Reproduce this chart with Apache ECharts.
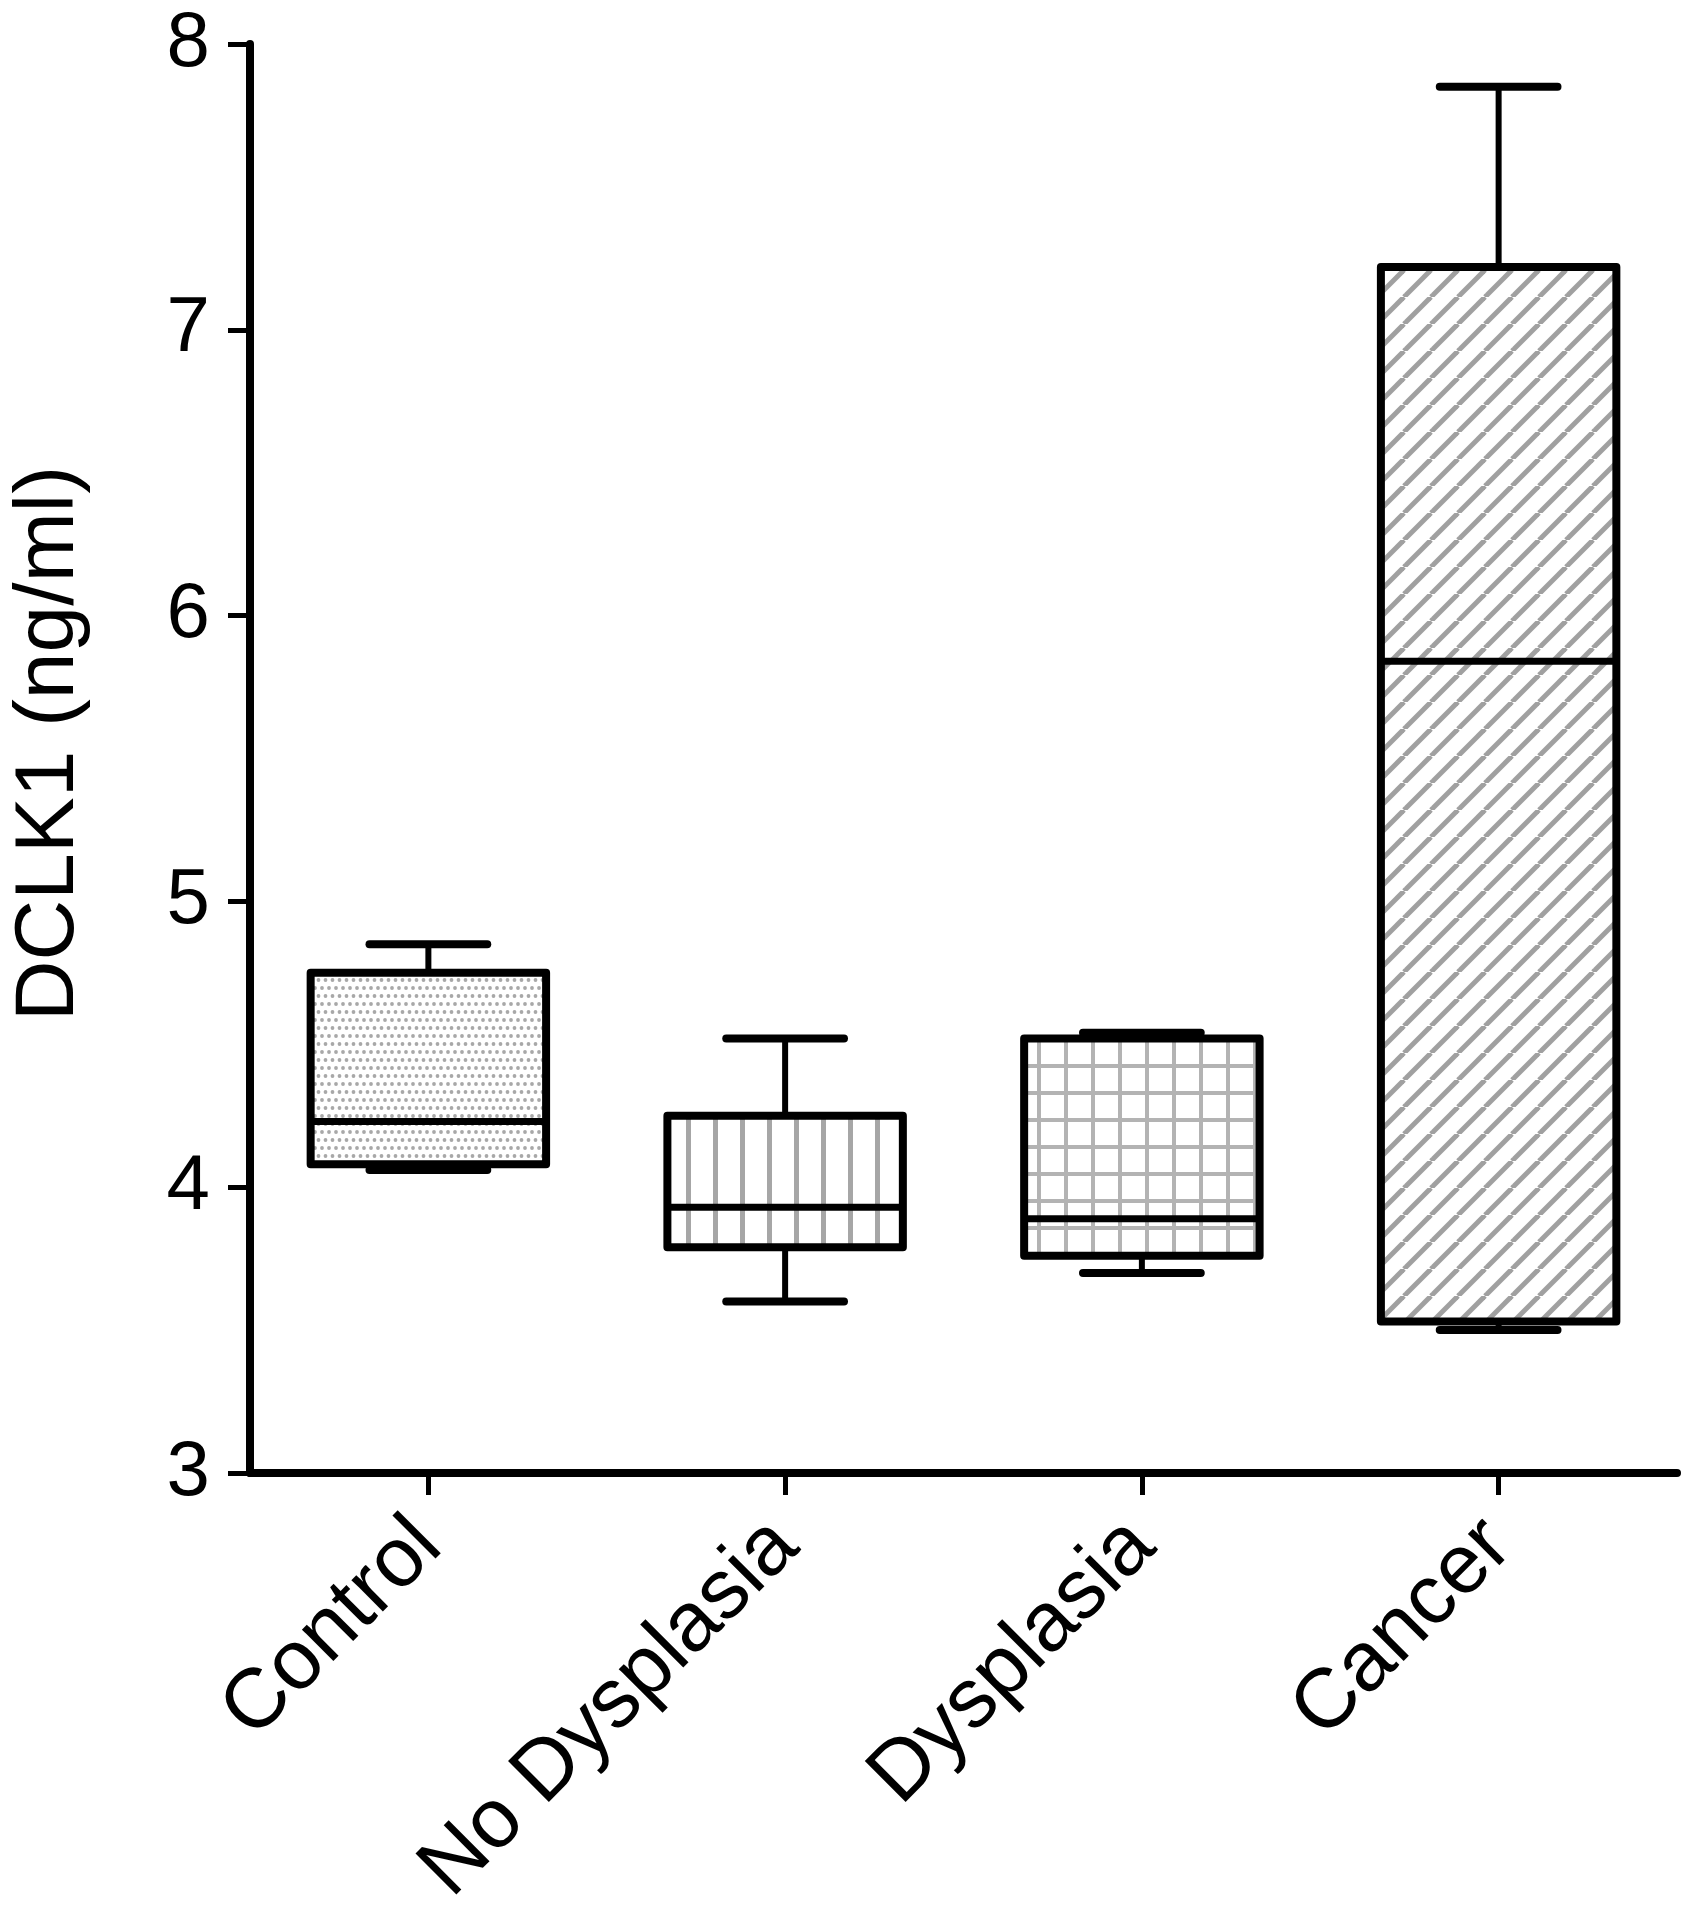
<!DOCTYPE html>
<html>
<head>
<meta charset="utf-8">
<script src="https://cdn.jsdelivr.net/npm/echarts@6/dist/echarts.min.js"></script>
<style>
  html, body { margin: 0; padding: 0; background: #fff; }
  #chart { width: 1692px; height: 1920px; }
</style>
</head>
<body>
<div id="chart"></div>
<script>
// ---- data ----
const categories = ['Control', 'No Dysplasia', 'Dysplasia', 'Cancer'];
const mins    = [4.06, 3.60, 3.70, 3.50];
const q1s     = [4.08, 3.79, 3.76, 3.53];
const medians = [4.23, 3.93, 3.89, 5.84];
const q3s     = [4.75, 4.25, 4.52, 7.22];
const maxs    = [4.85, 4.52, 4.54, 7.85];
const yTicks  = [3, 4, 5, 6, 7, 8];
const yTitle  = 'DCLK1 (ng/ml)';

// ---- fill patterns ----
function makeCanvas(w, h) {
  const c = document.createElement('canvas');
  c.width = w; c.height = h;
  const ctx = c.getContext('2d');
  ctx.fillStyle = '#fff';
  ctx.fillRect(0, 0, w, h);
  return [c, ctx];
}
function dotPattern() {
  const [c, ctx] = makeCanvas(14, 16);
  ctx.fillStyle = '#a8a8a8';
  const pts = [[3.5, 4], [10.5, 4], [0, 12], [7, 12], [14, 12]];
  pts.forEach(p => { ctx.beginPath(); ctx.arc(p[0], p[1], 1.9, 0, Math.PI * 2); ctx.fill(); });
  return { image: c, repeat: 'repeat' };
}
function vlinePattern() {
  const [c, ctx] = makeCanvas(27, 27);
  ctx.fillStyle = '#a6a6a6';
  ctx.fillRect(11, 0, 5, 27);
  return { image: c, repeat: 'repeat' };
}
function gridPattern() {
  const [c, ctx] = makeCanvas(27, 27);
  ctx.fillStyle = '#b3b3b3';
  ctx.fillRect(11, 0, 4, 27);
  ctx.fillRect(0, 11, 27, 4);
  return { image: c, repeat: 'repeat' };
}
function diagPattern() {
  const S = 27;
  const [c, ctx] = makeCanvas(S, S);
  ctx.strokeStyle = '#a0a0a0';
  ctx.lineWidth = 5;
  for (let k = -1; k <= 1; k++) {
    ctx.beginPath();
    ctx.moveTo(k * S, S);
    ctx.lineTo(k * S + S, 0);
    ctx.stroke();
  }
  return { image: c, repeat: 'repeat' };
}
const fills = [dotPattern(), vlinePattern(), gridPattern(), diagPattern()];

const seriesData = categories.map((c, i) => [i, mins[i], q1s[i], medians[i], q3s[i], maxs[i]]);

const FONT = "'Liberation Sans', Arial, Helvetica, sans-serif";

const chart = echarts.init(document.getElementById('chart'), null, { renderer: 'canvas' });
chart.setOption({
  backgroundColor: '#fff',
  animation: false,
  grid: { left: 245, right: 15, top: 44, bottom: 447, containLabel: false },
  xAxis: {
    type: 'category',
    data: categories,
    boundaryGap: true,
    axisLine: { show: true, lineStyle: { color: '#000', width: 8 } },
    axisTick: { show: true, alignWithLabel: true, length: 22, lineStyle: { color: '#000', width: 5 } },
    axisLabel: { rotate: 45, margin: 60, fontSize: 84, color: '#000', fontFamily: FONT, interval: 0 },
    splitLine: { show: false }
  },
  yAxis: {
    type: 'value',
    min: 3, max: 8, interval: 1,
    name: yTitle,
    nameLocation: 'middle',
    nameRotate: 90,
    nameGap: 158,
    nameTextStyle: { fontSize: 84, color: '#000', fontFamily: FONT, padding: [0, 0, 0, 30] },
    axisLine: { show: true, lineStyle: { color: '#000', width: 8 } },
    axisTick: { show: true, length: 22, lineStyle: { color: '#000', width: 5 } },
    axisLabel: {
      margin: 40, fontSize: 78, color: '#000', fontFamily: FONT,
      formatter: v => (yTicks.indexOf(v) >= 0 ? String(v) : '')
    },
    splitLine: { show: false }
  },
  series: [{
    type: 'custom',
    data: seriesData,
    encode: { x: 0, y: [1, 2, 3, 4, 5] },
    renderItem: function (params, api) {
      const idx = api.value(0);
      const x = api.coord([idx, 0])[0];
      const band = api.size([1, 0])[0];
      const hw = band * 0.33;
      const cw = band * 0.165;
      const yMin = api.coord([idx, api.value(1)])[1];
      const yQ1 = api.coord([idx, api.value(2)])[1];
      const yMed = api.coord([idx, api.value(3)])[1];
      const yQ3 = api.coord([idx, api.value(4)])[1];
      const yMax = api.coord([idx, api.value(5)])[1];
      const black = '#000';
      return {
        type: 'group',
        children: [
          { type: 'line', shape: { x1: x, y1: yMax, x2: x, y2: yQ3 }, style: { stroke: black, lineWidth: 6 } },
          { type: 'line', shape: { x1: x, y1: yQ1, x2: x, y2: yMin }, style: { stroke: black, lineWidth: 6 } },
          { type: 'line', shape: { x1: x - cw, y1: yMax, x2: x + cw, y2: yMax }, style: { stroke: black, lineWidth: 8, lineCap: 'round' } },
          { type: 'line', shape: { x1: x - cw, y1: yMin, x2: x + cw, y2: yMin }, style: { stroke: black, lineWidth: 8, lineCap: 'round' } },
          { type: 'rect', shape: { x: x - hw, y: yQ3, width: 2 * hw, height: yQ1 - yQ3 },
            style: { fill: fills[params.dataIndex], stroke: black, lineWidth: 8, lineJoin: 'round' } },
          { type: 'line', shape: { x1: x - hw, y1: yMed, x2: x + hw, y2: yMed }, style: { stroke: black, lineWidth: 7 } }
        ]
      };
    }
  }]
});
</script>
</body>
</html>
